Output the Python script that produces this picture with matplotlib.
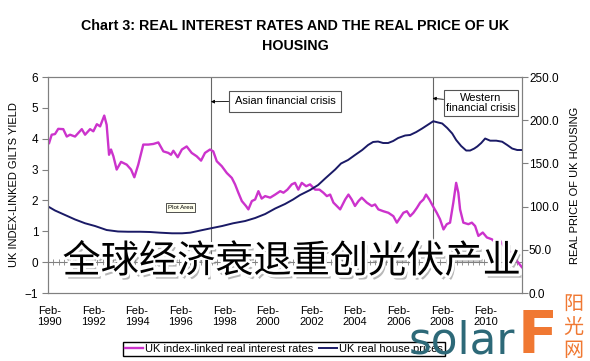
import matplotlib
matplotlib.use('Agg')
import matplotlib.pyplot as plt
import matplotlib.patheffects as pe
import numpy as np

plt.rcParams['font.family'] = ['Liberation Sans', 'Noto Sans CJK SC', 'DejaVu Sans']

# UK index-linked gilts real yield (%)
rate_years = [1990.05, 1990.17, 1990.32, 1990.47, 1990.70, 1990.86, 1991.01, 1991.24, 1991.55, 1991.70,
              1991.93, 1992.08, 1992.24, 1992.39, 1992.58, 1992.69, 1992.80, 1992.89, 1993.00, 1993.15,
              1993.35, 1993.61, 1993.81, 1993.96, 1994.14, 1994.37, 1994.60, 1994.83, 1995.06, 1995.29,
              1995.52, 1995.64, 1995.75, 1995.95, 1996.14, 1996.36, 1996.59, 1996.82, 1997.02, 1997.20,
              1997.43, 1997.58, 1997.74, 1997.97, 1998.20, 1998.43, 1998.58, 1998.73, 1998.89, 1999.08,
              1999.19, 1999.35, 1999.50, 1999.65, 1999.80, 1999.96, 2000.19, 2000.42, 2000.65, 2000.80,
              2000.98, 2001.18, 2001.33, 2001.48, 2001.64, 2001.84, 2002.02, 2002.25, 2002.45, 2002.63,
              2002.79, 2002.94, 2003.09, 2003.40, 2003.63, 2003.78, 2003.93, 2004.08, 2004.24, 2004.39,
              2004.62, 2004.85, 2005.00, 2005.15, 2005.38, 2005.61, 2005.84, 2006.00, 2006.15, 2006.30,
              2006.46, 2006.61, 2006.76, 2006.92, 2007.07, 2007.22, 2007.34, 2007.49, 2007.65, 2007.83,
              2007.98, 2008.14, 2008.29, 2008.44, 2008.59, 2008.72, 2008.82, 2008.90, 2009.05, 2009.28,
              2009.44, 2009.59, 2009.74, 2009.94, 2010.13, 2010.36, 2010.51, 2010.74, 2010.89, 2011.06,
              2011.29, 2011.52, 2011.73]
rate_values = [3.86, 4.13, 4.15, 4.32, 4.31, 4.07, 4.13, 4.07, 4.31, 4.13,
               4.31, 4.24, 4.47, 4.40, 4.75, 4.45, 3.48, 3.65, 3.43, 3.00,
               3.25, 3.16, 3.00, 2.75, 3.16, 3.81, 3.81, 3.83, 3.88, 3.59,
               3.54, 3.48, 3.61, 3.40, 3.65, 3.75, 3.54, 3.43, 3.29, 3.54,
               3.65, 3.59, 3.27, 3.11, 2.89, 2.73, 2.52, 2.25, 1.98, 1.82,
               1.71, 1.98, 2.03, 2.30, 2.06, 2.14, 2.09, 2.19, 2.30, 2.25,
               2.35, 2.52, 2.57, 2.35, 2.57, 2.46, 2.52, 2.35, 2.35, 2.25,
               2.14, 2.19, 1.93, 1.71, 2.03, 2.19, 2.03, 1.82, 1.98, 2.09,
               1.93, 1.82, 1.87, 1.71, 1.65, 1.60, 1.49, 1.28, 1.44, 1.60,
               1.65, 1.49, 1.60, 1.76, 1.93, 2.03, 2.19, 2.03, 1.82, 1.60,
               1.39, 1.06, 1.23, 1.28, 1.93, 2.57, 2.25, 1.71, 1.28, 1.23,
               1.28, 1.17, 0.85, 0.96, 0.80, 0.74, 0.64, 0.69, 0.53, 0.42,
               0.26, 0.03, -0.16]

# UK real house price index
house_years = [1990.02, 1990.32, 1990.78, 1991.24, 1991.70, 1992.16, 1992.69, 1993.21, 1993.67, 1994.22,
               1994.68, 1995.14, 1995.69, 1996.15, 1996.52, 1996.98, 1997.43, 1997.98, 1998.49, 1999.04,
               1999.50, 1999.96, 2000.42, 2000.87, 2001.24, 2001.56, 2002.02, 2002.39, 2002.71, 2003.17,
               2003.44, 2003.76, 2004.08, 2004.41, 2004.68, 2004.91, 2005.14, 2005.37, 2005.60, 2005.83,
               2006.06, 2006.38, 2006.61, 2006.89, 2007.16, 2007.44, 2007.67, 2007.90, 2008.08, 2008.31,
               2008.54, 2008.72, 2008.95, 2009.18, 2009.36, 2009.55, 2009.69, 2009.87, 2010.05, 2010.28,
               2010.56, 2010.83, 2011.06, 2011.29, 2011.52, 2011.73]
house_values = [99.9, 95.5, 90.3, 85.1, 80.7, 77.5, 72.9, 71.2, 70.9, 70.9,
                70.6, 69.8, 69.1, 69.1, 69.8, 72.3, 74.7, 77.5, 80.7, 83.3,
                86.8, 91.4, 97.8, 103.0, 108.2, 113.4, 119.2, 125.0, 132.5, 142.9,
                149.9, 153.9, 159.7, 165.5, 171.3, 174.8, 175.3, 173.6, 173.6, 175.9,
                179.4, 182.3, 182.9, 186.3, 190.4, 195.0, 198.8, 197.3, 196.2, 191.0,
                184.6, 177.1, 170.1, 164.9, 164.9, 167.2, 169.6, 173.6, 178.8, 176.3,
                176.3, 175.1, 171.3, 167.2, 165.5, 165.5]

crisis_years = [1997.47, 2007.64]
crisis_labels = ['Asian financial crisis', 'Western\nfinancial crisis']
tick_years = list(range(1990, 2011, 2))

W, H = 590, 361
def fx(px):
    return px / W
def fy(py):
    return 1 - py / H

fig = plt.figure(figsize=(5.9, 3.61), dpi=100)
ax = fig.add_axes([fx(48), fy(293), 474 / W, 216 / H])
ax2 = ax.twinx()

pink = '#cc33cc'
navy = '#1a1a66'
grey = '#808080'

ax.plot(rate_years, rate_values, color=pink, lw=1.7, zorder=3)
ax2.plot(house_years, house_values, color=navy, lw=1.4)

ax.set_xlim(1990.0, 2011.74)
ax.set_ylim(-1, 6)
ax2.set_ylim(0, 250)

# category axis crossing at zero
ax.axhline(0, color=grey, lw=0.8, zorder=1)
minor = np.arange(1990.0, 2011.7, 0.25)
ax.plot(minor, np.zeros_like(minor), ls='none', marker='|', ms=4, mew=0.6, color=grey, zorder=1)

ax.vlines(crisis_years, 0, 6, color='#666666', lw=0.8, zorder=2)

ax.set_xticks([y + 1 / 12 for y in tick_years])
ax.set_xticklabels(['Feb-\n%d' % y for y in tick_years], fontsize=8)
ax.tick_params(axis='x', length=0, pad=9)
ax.set_yticks(range(-1, 7))
ax.tick_params(axis='y', length=4, width=0.8, color=grey, labelsize=8.5, pad=3)
ax2.set_yticks(np.arange(0, 251, 50))
ax2.set_yticklabels(['%.1f' % v for v in np.arange(0, 251, 50)])
ax2.tick_params(axis='y', length=4, width=0.8, color=grey, labelsize=8.5, pad=1)

for a in (ax, ax2):
    for s in a.spines.values():
        s.set_color(grey)
        s.set_linewidth(0.8)

ax.set_ylabel('UK INDEX-LINKED GILTS YIELD', fontsize=8, labelpad=4)
ax2.set_ylabel('REAL PRICE OF UK HOUSING', fontsize=8, labelpad=8)

arrow = dict(arrowstyle='-|>', color='black', lw=0.6, mutation_scale=5, shrinkA=0, shrinkB=0)
ax.annotate(crisis_labels[0], xy=(crisis_years[0], 5.2), xytext=(2000.87, 5.22),
            ha='center', va='center', fontsize=8, arrowprops=arrow,
            bbox=dict(boxstyle='square,pad=0.5', fc='white', ec='#555555', lw=0.8))
ax.annotate(crisis_labels[1], xy=(crisis_years[1], 5.31), xytext=(2009.86, 5.16),
            ha='center', va='center', fontsize=8, linespacing=1.1, arrowprops=arrow,
            bbox=dict(boxstyle='square,pad=0.2', fc='white', ec='#555555', lw=0.8))

fig.text(fx(180.5), fy(207.5), 'Plot Area', fontsize=4.5, ha='center', va='center',
         bbox=dict(boxstyle='square,pad=0.3', fc='#ffffee', ec='#333333', lw=0.6))

fig.text(0.5, fy(26), 'Chart 3: REAL INTEREST RATES AND THE REAL PRICE OF UK',
         ha='center', va='center', fontsize=10.3, fontweight='bold')
fig.text(0.5, fy(46), 'HOUSING', ha='center', va='center', fontsize=10.3, fontweight='bold')

fig.legend(handles=ax.get_lines()[:1] + ax2.get_lines()[:1],
           labels=['UK index-linked real interest rates', 'UK real house prices'],
           loc='center', bbox_to_anchor=(fx(284), fy(349)), ncol=2, fontsize=8,
           frameon=True, fancybox=False, edgecolor='black', framealpha=1,
           handlelength=1.6, handletextpad=0.2, columnspacing=0.5, borderpad=0.2,
           borderaxespad=0)

# watermark overlays
fig.text(fx(292), fy(262), '全球经济衰退重创光伏产业', ha='center', va='center',
         fontsize=27.5, family=['Noto Sans CJK SC'], fontweight='medium', color='black', zorder=10,
         path_effects=[pe.SimplePatchShadow(offset=(2, -3), shadow_rgbFace='#888888', alpha=0.6),
                       pe.withStroke(linewidth=4, foreground='white')])
fig.text(fx(409), fy(354), 'solar', ha='left', va='baseline', fontsize=31.5,
         family=['DejaVu Sans'], color='#2d6978', zorder=10)
fig.text(fx(518), fy(353), 'F', ha='left', va='baseline', fontsize=42,
         family=['DejaVu Sans'], fontweight='bold', color='#f07832', zorder=10)
for i, ch in enumerate('阳光网'):
    fig.text(fx(573), fy(305 + 22.5 * i), ch, ha='center', va='center', fontsize=14.5,
             family=['Noto Sans CJK SC'], color='#f07832', zorder=10)

fig.savefig('out.png', dpi=100)
